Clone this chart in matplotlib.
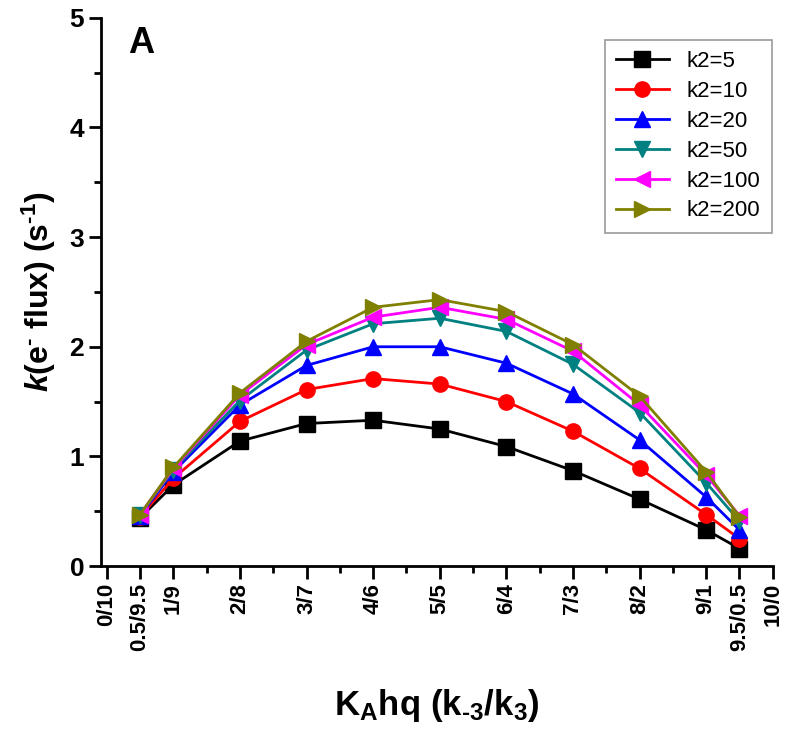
import matplotlib
matplotlib.use('Agg')
import matplotlib.pyplot as plt
from matplotlib.ticker import MultipleLocator

plt.rcParams['font.family'] = ['Liberation Sans', 'DejaVu Sans']
plt.rcParams['mathtext.fontset'] = 'custom'
plt.rcParams['mathtext.rm'] = 'Liberation Sans:bold'
plt.rcParams['mathtext.bf'] = 'Liberation Sans:bold'
plt.rcParams['mathtext.it'] = 'Liberation Sans:italic:bold'

x_pos = [0.5, 1, 2, 3, 4, 5, 6, 7, 8, 9, 9.5]
tick_pos = [0, 0.5, 1, 2, 3, 4, 5, 6, 7, 8, 9, 9.5, 10]
tick_labels = ['0/10', '0.5/9.5', '1/9', '2/8', '3/7', '4/6', '5/5',
               '6/4', '7/3', '8/2', '9/1', '9.5/0.5', '10/0']

k2_5 = [0.44, 0.74, 1.14, 1.30, 1.33, 1.25, 1.09, 0.87, 0.61, 0.33, 0.16]
k2_10 = [0.45, 0.80, 1.32, 1.61, 1.71, 1.66, 1.50, 1.23, 0.89, 0.47, 0.25]
k2_20 = [0.46, 0.86, 1.47, 1.83, 2.00, 2.00, 1.85, 1.57, 1.15, 0.63, 0.33]
k2_50 = [0.47, 0.88, 1.51, 1.97, 2.21, 2.26, 2.14, 1.84, 1.40, 0.76, 0.41]
k2_100 = [0.47, 0.89, 1.56, 2.02, 2.27, 2.36, 2.25, 1.96, 1.47, 0.83, 0.46]
k2_200 = [0.47, 0.90, 1.58, 2.05, 2.36, 2.43, 2.32, 2.02, 1.55, 0.86, 0.45]

series = [
    (k2_5, 'k2=5', 'black', 's'),
    (k2_10, 'k2=10', 'red', 'o'),
    (k2_20, 'k2=20', 'blue', '^'),
    (k2_50, 'k2=50', '#008080', 'v'),
    (k2_100, 'k2=100', 'magenta', '<'),
    (k2_200, 'k2=200', '#808000', '>'),
]

fig = plt.figure(figsize=(8, 7.4), dpi=100)
ax = fig.add_axes([0.126, 0.235, 0.84, 0.741])

for vals, lab, col, mk in series:
    ax.plot(x_pos, vals, color=col, marker=mk, markersize=11, linewidth=2, label=lab)

ax.set_xlim(-0.09, 10.0)
ax.set_ylim(0, 5)
ax.spines['top'].set_visible(False)
ax.spines['right'].set_visible(False)
ax.spines['left'].set_linewidth(2)
ax.spines['bottom'].set_linewidth(2)

ax.set_xticks(tick_pos)
ax.set_xticklabels(tick_labels, rotation=90, fontsize=16, fontweight='bold')
ax.xaxis.set_minor_locator(MultipleLocator(0.5))
ax.yaxis.set_major_locator(MultipleLocator(1))
ax.yaxis.set_minor_locator(MultipleLocator(0.5))
for lbl in ax.get_yticklabels():
    lbl.set_fontsize(19)
    lbl.set_fontweight('bold')
ax.tick_params(which='major', length=9, width=2, direction='out', pad=3)
ax.tick_params(which='minor', length=5, width=2, direction='out')

ax.set_xlabel(r'K$_{\rm A}$hq (k$_{\rm \text{-}3}$/k$_{\rm 3}$)', fontsize=25,
              fontweight='bold', labelpad=26)
ax.set_ylabel(r'$\it{k}$(e$^{\rm \text{-}}$ flux) (s$^{\rm \text{-}1}$)', fontsize=23,
              fontweight='bold', labelpad=8)

ax.text(0.04, 0.935, 'A', transform=ax.transAxes, fontsize=26, fontweight='bold')

leg = ax.legend(loc='upper right', bbox_to_anchor=(1.015, 0.98), fontsize=16,
                frameon=True, fancybox=False, edgecolor='gray',
                handlelength=2.4, borderpad=0.5, labelspacing=0.4)
leg.get_frame().set_linewidth(1.2)

fig.savefig('out.png', dpi=100)
